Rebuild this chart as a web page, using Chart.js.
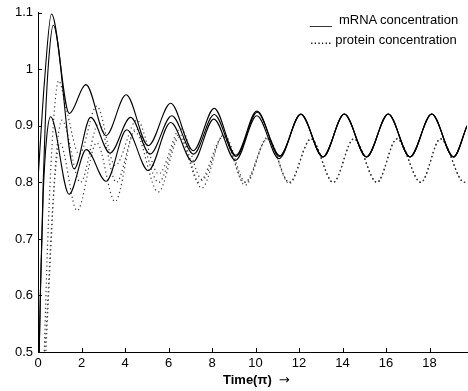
<!DOCTYPE html>
<html>
<head>
<meta charset="utf-8">
<script src="https://cdn.jsdelivr.net/npm/chart.js@4/dist/chart.umd.min.js"></script>
<style>
  html, body { margin: 0; padding: 0; background: #fff; }
  #wrap { position: relative; width: 468px; height: 391px; }
  canvas { display: block; }
  .leg { position: absolute; font: 13px "Liberation Sans", Arial, sans-serif; color: #000; white-space: pre; line-height: 16px; }
  #xt { position: absolute; left: 223px; top: 372px; font: bold 13px "Liberation Sans", Arial, sans-serif; color: #000; white-space: pre; line-height: 16px; }
  #xt .arr { font: normal 13px "DejaVu Sans", sans-serif; margin-left: 7px; }
</style>
</head>
<body>
<div id="wrap">
  <canvas id="c" width="468" height="391"></canvas>
  <div class="leg" style="left:310px; top:12px;">___  mRNA concentration</div>
  <div class="leg" style="left:310px; top:32px;">...... protein concentration</div>
  <div id="xt">Time(π)<span class="arr">→</span></div>
</div>
<script>
// ---- data ----
const xTicks = [0, 2, 4, 6, 8, 10, 12, 14, 16, 18];
const yTicks = [0.5, 0.6, 0.7, 0.8, 0.9, 1.0, 1.1];
const yTickLabels = ['0.5', '0.6', '0.7', '0.8', '0.9', '1', '1.1'];

// mRNA (solid) curves
const mrnaA_x = [0, 0.3, 0.62, 1.44, 2.2, 3.13, 4.05, 5.07, 6.1, 7.14, 8.1, 9.1, 10.06, 11.12, 12.08, 13.1, 14.08, 15.1, 16.1, 17.1, 18.1, 19.1, 19.72];
const mrnaA_y = [0.805, 0.98, 1.098, 0.922, 0.973, 0.883, 0.955, 0.865, 0.940, 0.856, 0.931, 0.848, 0.926, 0.847, 0.921, 0.845, 0.921, 0.845, 0.921, 0.845, 0.921, 0.845, 0.900];
const mrnaB_x = [0.03, 0.12, 0.24, 0.34, 0.5, 0.7, 1.66, 2.42, 3.31, 4.26, 5.15, 6.15, 7.15, 8.1, 9.1, 10.08, 11.1, 12.08, 13.1, 14.08, 15.1, 16.1, 17.1, 18.1, 19.1, 19.72];
const mrnaB_y = [0.45, 0.62, 0.80, 0.912, 1.02, 1.078, 0.824, 0.915, 0.852, 0.915, 0.850, 0.918, 0.850, 0.920, 0.846, 0.924, 0.846, 0.921, 0.845, 0.921, 0.845, 0.921, 0.845, 0.921, 0.845, 0.900];
const mrnaC_x = [0.03, 0.12, 0.24, 0.4, 0.58, 1.43, 2.22, 3.13, 4.08, 5.07, 6.1, 7.12, 8.08, 9.08, 10.06, 11.08, 12.08, 13.1, 14.08, 15.1, 16.1, 17.1, 18.1, 19.1, 19.72];
const mrnaC_y = [0.45, 0.62, 0.78, 0.88, 0.916, 0.779, 0.858, 0.802, 0.893, 0.821, 0.906, 0.836, 0.912, 0.839, 0.918, 0.842, 0.920, 0.845, 0.921, 0.845, 0.921, 0.845, 0.921, 0.845, 0.900];

// protein (dotted) curves
const protA_x = [0.25, 0.45, 0.7, 0.95, 1.3, 1.9, 2.7, 3.55, 4.55, 5.55, 6.55, 7.55, 8.55, 9.55, 10.55, 11.55, 12.55, 13.57, 14.52, 15.58, 16.5, 17.6, 18.5, 19.6, 19.72];
const protA_y = [0.45, 0.70, 0.90, 0.980, 0.93, 0.850, 0.935, 0.830, 0.910, 0.815, 0.895, 0.805, 0.885, 0.800, 0.880, 0.800, 0.877, 0.800, 0.877, 0.800, 0.877, 0.800, 0.877, 0.800, 0.803];
const protB_x = [0.3, 0.55, 0.8, 1.1, 1.95, 2.8, 3.6, 4.5, 5.55, 6.5, 7.53, 8.52, 9.52, 10.55, 11.55, 12.55, 13.57, 14.52, 15.58, 16.5, 17.6, 18.5, 19.6, 19.72];
const protB_y = [0.45, 0.65, 0.83, 0.910, 0.800, 0.905, 0.800, 0.895, 0.800, 0.885, 0.790, 0.883, 0.795, 0.878, 0.798, 0.877, 0.800, 0.877, 0.800, 0.877, 0.800, 0.877, 0.800, 0.803];
const protC_x = [0.1, 0.32, 0.7, 1.0, 1.8, 2.7, 3.54, 4.45, 5.53, 6.5, 7.4, 8.5, 9.5, 10.55, 11.55, 12.55, 13.57, 14.52, 15.58, 16.5, 17.6, 18.5, 19.6, 19.72];
const protC_y = [0.45, 0.51, 0.77, 0.870, 0.750, 0.870, 0.766, 0.890, 0.783, 0.880, 0.800, 0.880, 0.800, 0.877, 0.800, 0.877, 0.800, 0.877, 0.800, 0.877, 0.800, 0.877, 0.800, 0.803];

const xMax = 19.72;

function pts(xs, ys) { return xs.map((x, i) => ({ x: x, y: ys[i] })); }

const solid = { borderColor: '#000', borderWidth: 1.1, pointRadius: 0, fill: false, cubicInterpolationMode: 'monotone' };
const dotted = { borderColor: '#3a3a3a', borderWidth: 1.2, borderDash: [1.2, 3], pointRadius: 0, fill: false, cubicInterpolationMode: 'monotone' };

const inwardTicks = {
  id: 'inwardTicks',
  afterDraw(chart) {
    const ctx = chart.ctx, xs = chart.scales.x, ys = chart.scales.y, a = chart.chartArea;
    ctx.save();
    ctx.strokeStyle = '#000';
    ctx.lineWidth = 1;
    ctx.beginPath();
    xTicks.forEach(v => { const px = Math.round(xs.getPixelForValue(v)) + 0.5; ctx.moveTo(px, a.bottom); ctx.lineTo(px, a.bottom - 4); });
    yTicks.forEach(v => { const py = Math.round(ys.getPixelForValue(v)) + 0.5; ctx.moveTo(a.left, py); ctx.lineTo(a.left + 4, py); });
    ctx.stroke();
    ctx.restore();
  }
};

const font = { family: '"Liberation Sans", Arial, sans-serif', size: 13 };

new Chart(document.getElementById('c'), {
  type: 'line',
  data: {
    datasets: [
      Object.assign({ data: pts(mrnaA_x, mrnaA_y) }, solid),
      Object.assign({ data: pts(mrnaB_x, mrnaB_y) }, solid),
      Object.assign({ data: pts(mrnaC_x, mrnaC_y) }, solid),
      Object.assign({ data: pts(protA_x, protA_y) }, dotted),
      Object.assign({ data: pts(protB_x, protB_y) }, dotted),
      Object.assign({ data: pts(protC_x, protC_y) }, dotted)
    ]
  },
  options: {
    responsive: false,
    animation: false,
    layout: { padding: { top: 9, right: 1, left: 0, bottom: 0 } },
    plugins: { legend: { display: false }, tooltip: { enabled: false } },
    scales: {
      x: {
        type: 'linear', min: 0, max: xMax,
        afterBuildTicks: s => { s.ticks = xTicks.map(v => ({ value: v })); },
        afterFit: s => { s.height = 39; },
        grid: { display: true, drawOnChartArea: false, drawTicks: false },
        border: { display: true, color: '#000', width: 1 },
        ticks: { color: '#000', font: font, padding: 4, maxRotation: 0, callback: v => String(v) },
        title: { display: false }
      },
      y: {
        type: 'linear', min: 0.5, max: 1.1,
        afterBuildTicks: s => { s.ticks = yTicks.map(v => ({ value: v })); },
        afterFit: s => { s.width = 38; },
        grid: { display: true, drawOnChartArea: false, drawTicks: false },
        border: { display: true, color: '#000', width: 1 },
        ticks: { color: '#000', font: font, padding: 5, callback: (v, i) => yTickLabels[i] }
      }
    }
  },
  plugins: [inwardTicks]
});
</script>
</body>
</html>
